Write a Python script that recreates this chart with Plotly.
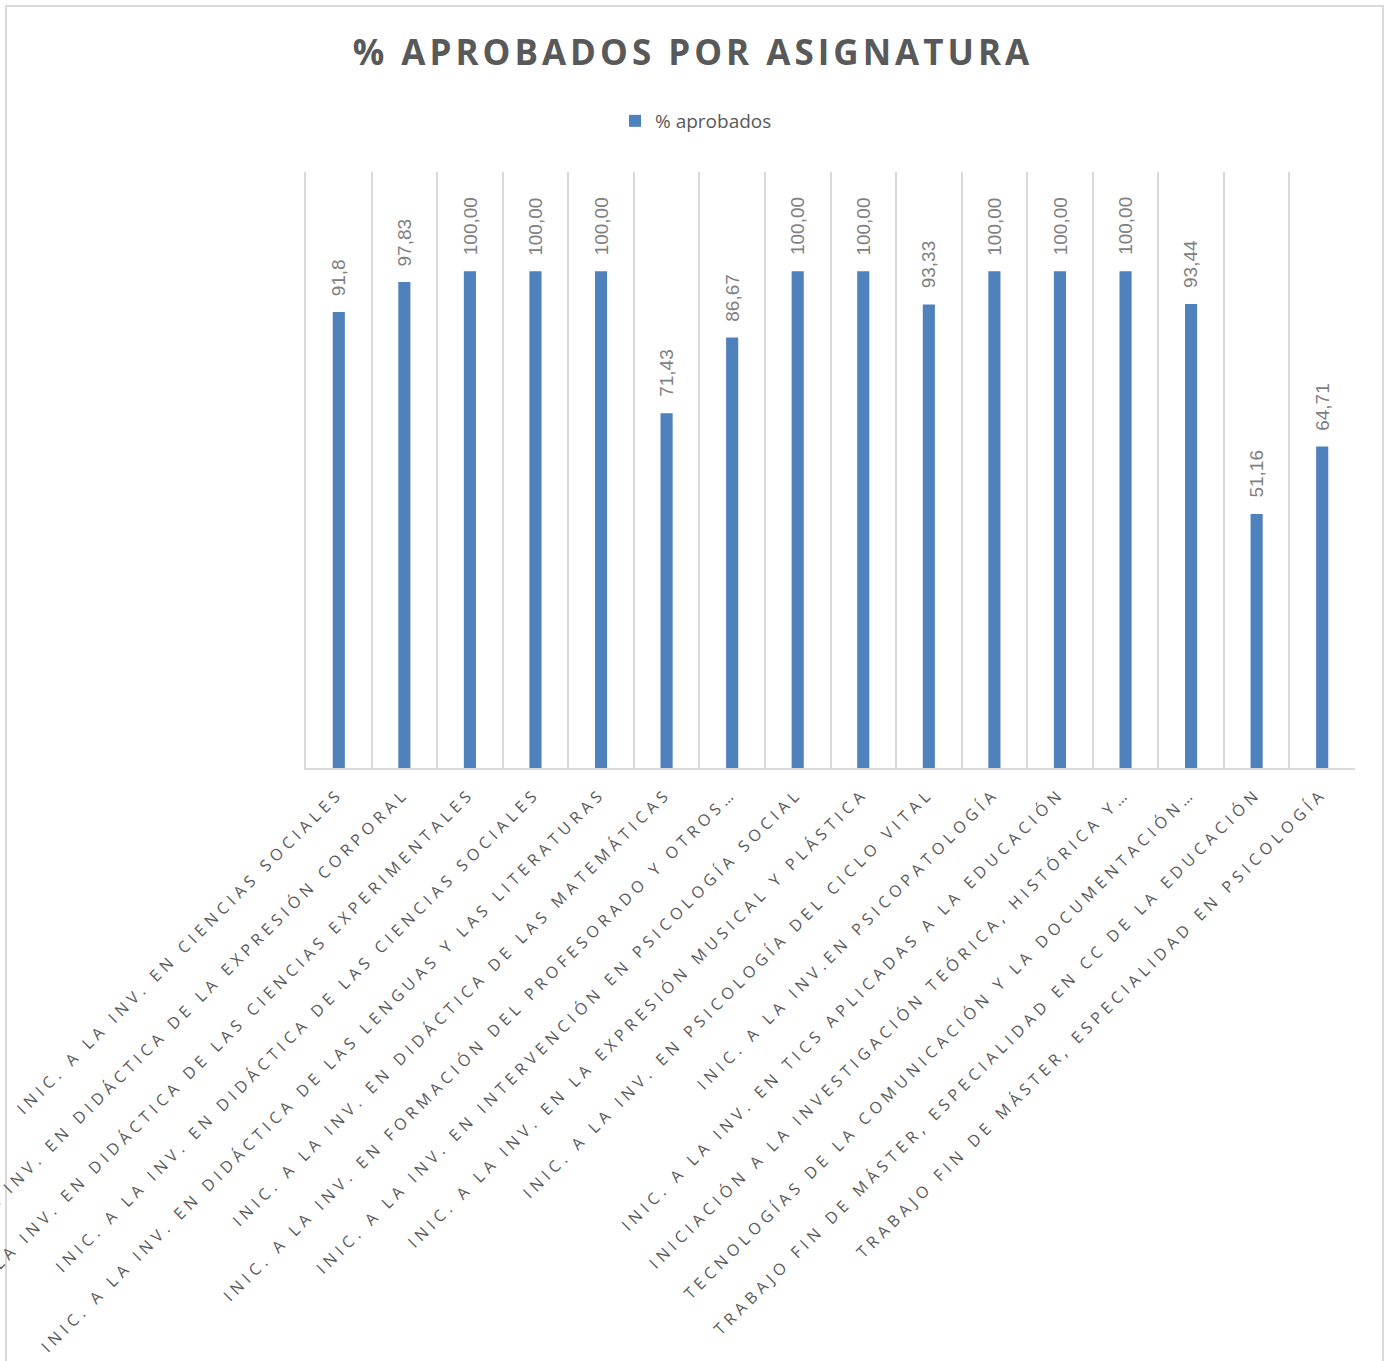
import plotly.graph_objects as go

categories = [
    "INIC. A LA INV. EN CIENCIAS SOCIALES",
    "INIC. A LA INV. EN DIDÁCTICA DE LA EXPRESIÓN CORPORAL",
    "INIC. A LA INV. EN DIDÁCTICA DE LAS CIENCIAS EXPERIMENTALES",
    "INIC. A LA INV. EN DIDÁCTICA DE LAS CIENCIAS SOCIALES",
    "INIC. A LA INV. EN DIDÁCTICA DE LAS LENGUAS Y LAS LITERATURAS",
    "INIC. A LA INV. EN DIDÁCTICA DE LAS MATEMÁTICAS",
    "INIC. A LA INV. EN FORMACIÓN DEL PROFESORADO Y OTROS…",
    "INIC. A LA INV. EN INTERVENCIÓN EN PSICOLOGÍA SOCIAL",
    "INIC. A LA INV. EN LA EXPRESIÓN MUSICAL Y PLÁSTICA",
    "INIC. A LA INV. EN PSICOLOGÍA DEL CICLO VITAL",
    "INIC. A LA INV.EN PSICOPATOLOGÍA",
    "INIC. A LA INV. EN TICS APLICADAS A LA EDUCACIÓN",
    "INICIACIÓN A LA INVESTIGACIÓN TEÓRICA, HISTÓRICA Y…",
    "TECNOLOGÍAS DE LA COMUNICACIÓN Y LA DOCUMENTACIÓN…",
    "TRABAJO FIN DE MÁSTER, ESPECIALIDAD EN CC DE LA EDUCACIÓN",
    "TRABAJO FIN DE MÁSTER, ESPECIALIDAD EN PSICOLOGÍA",
]
values = [91.8, 97.83, 100, 100, 100, 71.43, 86.67, 100, 100, 93.33, 100, 100, 100, 93.44, 51.16, 64.71]
value_labels = ["91,8", "97,83", "100,00", "100,00", "100,00", "71,43", "86,67", "100,00",
                "100,00", "93,33", "100,00", "100,00", "100,00", "93,44", "51,16", "64,71"]
series_name = "% aprobados"
title_text = "% APROBADOS POR ASIGNATURA"

W, H = 1391, 1361
L, R, T, B = 306, 36, 172, 593

def spaced(s, px):
    return f'<span style="letter-spacing:{px}px">{s}</span>'

fig = go.Figure()
fig.add_trace(go.Bar(
    x=categories, y=values, name=series_name,
    marker=dict(color="#4f81bd", line=dict(width=0)),
    width=0.185,
))

for c, v, t in zip(categories, values, value_labels):
    fig.add_annotation(
        x=c, y=v, text=t, showarrow=False, textangle=-90,
        yanchor="bottom", xanchor="center", yshift=14,
        font=dict(family="Liberation Sans", size=19, color="#808080"),
    )

# chart-area border
pw = W - L - R
ph = H - T - B
fig.add_shape(
    type="rect", xref="paper", yref="paper",
    x0=(6 - L) / pw, x1=(1383 - L) / pw,
    y0=(H - 1361 - 5 - B) / ph, y1=(H - 6 - B) / ph,
    line=dict(color="#d9d9d9", width=2), fillcolor="rgba(0,0,0,0)", layer="below",
)

fig.update_layout(
    width=W, height=H,
    margin=dict(l=L, r=R, t=T, b=B, autoexpand=False),
    paper_bgcolor="white", plot_bgcolor="white",
    title=dict(
        text=spaced(title_text, 4.0), x=693 / W, xanchor="center",
        y=1 - 53 / H, yanchor="middle", xref="container", yref="container",
        font=dict(family="Open Sans", size=35, color="#595959", weight=700),
    ),
    showlegend=True,
    legend=dict(
        orientation="h", xref="container", yref="container",
        x=696 / W, xanchor="center", y=1 - 121 / H, yanchor="middle",
        font=dict(family="Open Sans", size=19, color="#595959"),
        itemwidth=30,
    ),
    xaxis=dict(
        type="category", range=[-0.5, len(categories) - 0.5],
        tickson="boundaries", showgrid=True, gridcolor="#d9d9d9", gridwidth=1.5,
        showline=True, linecolor="#d9d9d9", linewidth=1.5,
        ticks="", tickangle=-45,
        tickmode="array", tickvals=categories,
        ticktext=[spaced(c, 4.8) for c in categories],
        tickfont=dict(family="Open Sans", size=16, color="#595959"),
        ticklabelstandoff=8,
        automargin=False,
    ),
    yaxis=dict(
        range=[0, 120], showgrid=False, zeroline=False,
        showticklabels=False, ticks="",
        showline=True, linecolor="#d9d9d9", linewidth=1.5,
    ),
)

fig.write_html("out.html", config={"displayModeBar": False},
               post_script="document.body.style.margin='0';")
